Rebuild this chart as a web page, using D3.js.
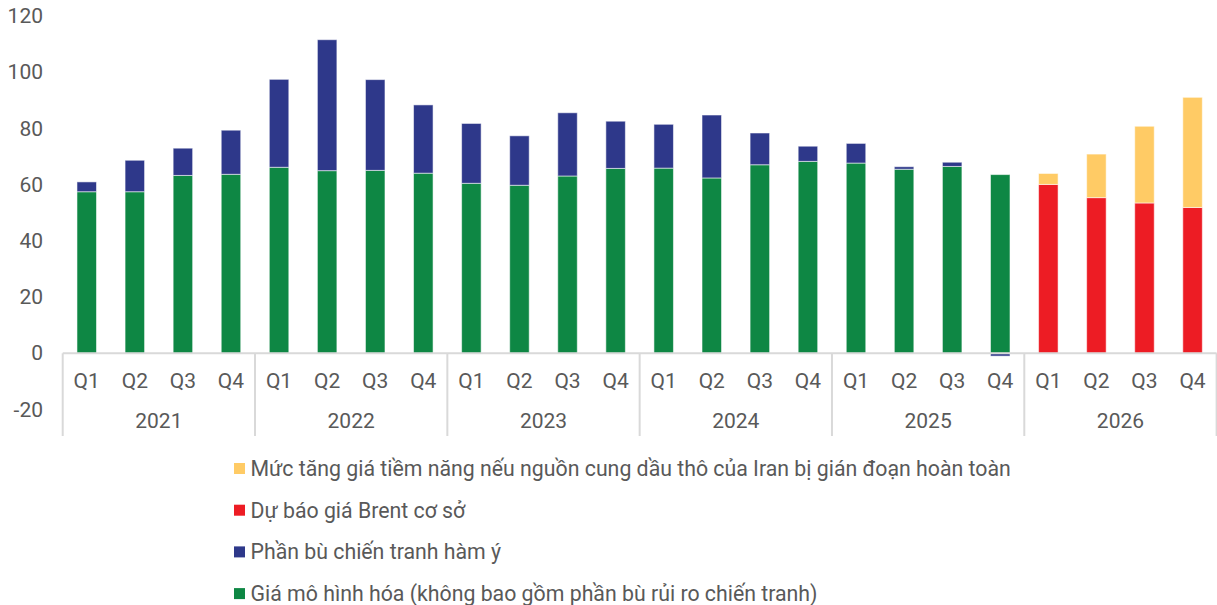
<!DOCTYPE html>
<html><head><meta charset="utf-8">
<script src="https://cdn.jsdelivr.net/npm/d3@7"></script>
<style>
html,body{margin:0;padding:0;background:#fff;}
svg{display:block;font-family:Roboto,"Noto Sans",sans-serif;}
</style></head>
<body>
<svg id="chart" width="1217" height="605"></svg>
<script>
const years = ["2021","2022","2023","2024","2025","2026"];
const quarters = ["Q1","Q2","Q3","Q4"];
const modeledPrice = [57.5,57.5,63.3,63.7, 66.2,65.0,65.1,64.1, 60.5,59.8,63.1,65.8, 65.9,62.4,67.1,68.3, 67.7,65.5,66.5,63.6, 0,0,0,0];
const warPremium   = [3.5,11.2,9.7,15.7, 31.3,46.6,32.3,24.3, 21.3,17.6,22.5,16.8, 15.6,22.4,11.3,5.4, 7.0,0.9,1.5,-1.0, 0,0,0,0];
const brentBase    = [0,0,0,0, 0,0,0,0, 0,0,0,0, 0,0,0,0, 0,0,0,0, 60.1,55.4,53.5,51.9];
const iranUpside   = [0,0,0,0, 0,0,0,0, 0,0,0,0, 0,0,0,0, 0,0,0,0, 3.9,15.5,27.3,39.2];
const yTicks = [-20,0,20,40,60,80,100,120];
const seriesNames = {
  upside: "Mức tăng giá tiềm năng nếu nguồn cung dầu thô của Iran bị gián đoạn hoàn toàn",
  brent: "Dự báo giá Brent cơ sở",
  premium: "Phần bù chiến tranh hàm ý",
  modeled: "Giá mô hình hóa (không bao gồm phần bù rủi ro chiến tranh)"
};
const colors = {modeled:"#0E8744", premium:"#2E388A", brent:"#ED1C24", upside:"#FFCB65"};

const rows = [];
years.forEach((y,yi)=>quarters.forEach((q,qi)=>{
  const i = yi*4+qi;
  rows.push({idx:i, year:y, q:q, modeled:modeledPrice[i], premium:warPremium[i], brent:brentBase[i], upside:iranUpside[i]});
}));

const svg = d3.select("#chart");
const textColor = "#595959";
const gridColor = "#D9D9D9";

const x = d3.scaleBand().domain(rows.map(d=>d.idx)).range([62.7,1216.6]).paddingInner(0.594).paddingOuter(0.297);
const y = d3.scaleLinear().domain([-20,120]).range([409.5,16.1]);

// y tick labels
svg.append("g").selectAll("text").data(yTicks).join("text")
  .attr("x",43).attr("y",d=>y(d)).attr("text-anchor","end").attr("dominant-baseline","central")
  .attr("font-size",21).attr("fill",textColor).text(d=>d);

// bars
const keys = ["modeled","premium","brent","upside"];
const stacked = d3.stack().keys(keys).offset(d3.stackOffsetDiverging)(rows);
svg.append("g").selectAll("g").data(stacked).join("g")
  .attr("fill",s=>colors[s.key])
  .selectAll("rect").data(s=>s.filter(d=>d[1]!==d[0])).join("rect")
  .attr("x",d=>x(d.data.idx)).attr("width",x.bandwidth())
  .attr("y",d=>y(Math.max(d[0],d[1])))
  .attr("height",d=>Math.abs(y(d[0])-y(d[1])))
  .attr("stroke","rgba(255,255,255,0.55)").attr("stroke-width",1);

// axis baseline
const x0 = x.range()[0], x1 = x.range()[1];
svg.append("line").attr("x1",x0).attr("x2",x1).attr("y1",y(0)).attr("y2",y(0))
  .attr("stroke",gridColor).attr("stroke-width",2);

// group separators
const step = x.step();
d3.range(0,years.length+1).forEach(i=>{
  const xx = x0 + i*4*step;
  svg.append("line").attr("x1",xx).attr("x2",xx).attr("y1",y(0)).attr("y2",436)
    .attr("stroke",gridColor).attr("stroke-width",2);
});

// quarter labels
svg.append("g").selectAll("text").data(rows).join("text")
  .attr("x",d=>x(d.idx)+x.bandwidth()/2).attr("y",381)
  .attr("text-anchor","middle").attr("dominant-baseline","central")
  .attr("font-size",21).attr("fill",textColor).text(d=>d.q);

// year labels
svg.append("g").selectAll("text").data(years).join("text")
  .attr("x",(d,i)=>x0 + (i*4+2)*step).attr("y",421)
  .attr("text-anchor","middle").attr("dominant-baseline","central")
  .attr("font-size",21).attr("fill",textColor).text(d=>d);

// legend
const legendKeys = ["upside","brent","premium","modeled"];
const lg = svg.append("g").selectAll("g").data(legendKeys).join("g")
  .attr("transform",(d,i)=>`translate(234,${468.5+i*41.7})`);
lg.append("rect").attr("x",0).attr("y",-5.5).attr("width",11).attr("height",11).attr("fill",d=>colors[d]);
lg.append("text").attr("x",16.5).attr("y",0).attr("dominant-baseline","central")
  .attr("font-size",21.3).attr("fill",textColor).text(d=>seriesNames[d]);
</script>
</body></html>
